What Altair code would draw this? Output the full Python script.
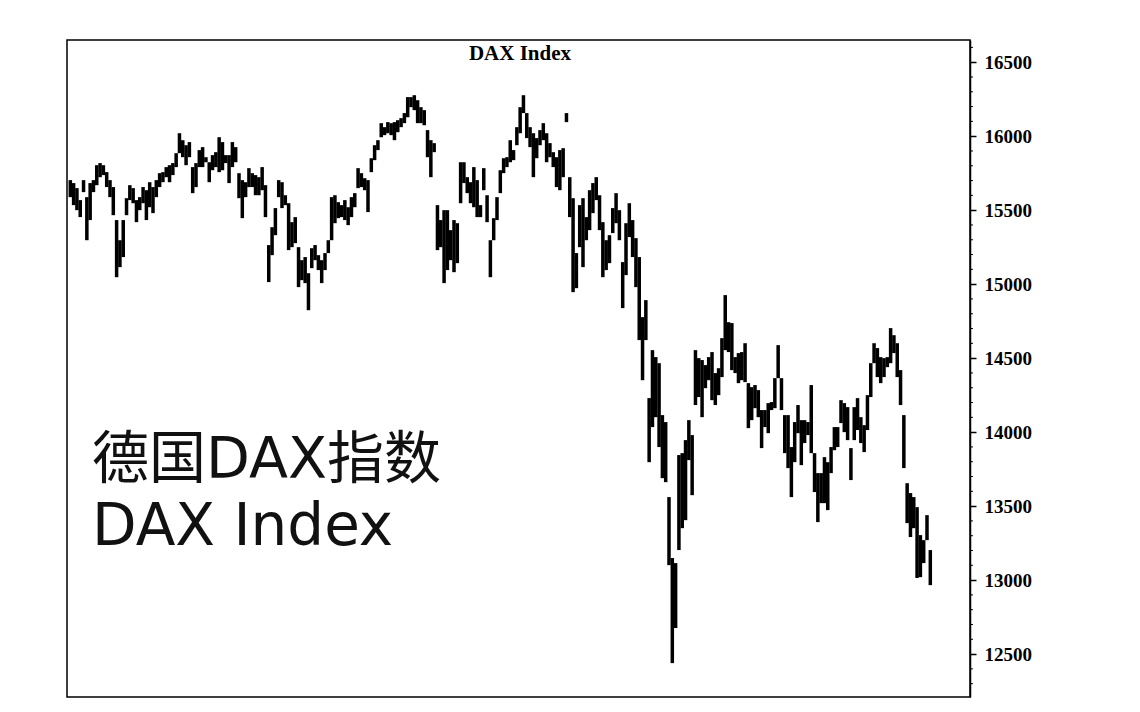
import altair as alt
import pandas as pd

# Daily high / low of the DAX index (one bar per trading day)
high = [
15703, 15683, 15649, 15568, 15703, 15588, 15683, 15703, 15804, 15818,
15804, 15757, 15703, 15656, 15433, 15297, 15433, 15581, 15669, 15649,
15568, 15588, 15656, 15635, 15689, 15656, 15703, 15750, 15757, 15791,
15804, 15818, 15885, 16020, 15973, 15939, 15960, 15791, 15818, 15906,
15926, 15858, 15824, 15872, 15892, 15993, 15960, 15872, 15872, 15960,
15926, 15750, 15703, 15689, 15784, 15750, 15737, 15723, 15791, 15669,
15264, 15385, 15514, 15703, 15689, 15601, 15547, 15419, 15453, 15250,
15162, 15183, 15074, 15243, 15264, 15196, 15162, 15210, 15297, 15588,
15601, 15554, 15534, 15568, 15520, 15588, 15615, 15784, 15750, 15716,
15703, 15851, 15939, 15973, 16088, 16061, 16095, 16088, 16095, 16108,
16122, 16156, 16264, 16264, 16277, 16243, 16196, 16176, 16041, 15973,
15953, 15534, 15433, 15500, 15500, 15365, 15433, 15412, 15824, 15824,
15723, 15689, 15791, 15703, 15534, 15784, 15601, 15297, 15446, 15588,
15770, 15851, 15858, 15973, 15906, 16061, 16196, 16277, 16156, 16061,
16020, 15987, 16041, 16088, 16020, 15953, 15892, 15858, 15906, 15919,
16156, 15723, 15581, 15210, 15534, 15581, 15453, 15635, 15683, 15723,
15601, 15419, 15297, 15331, 15514, 15615, 15500, 15149, 15412, 15547,
15433, 15311, 15183, 14777, 14892, 14230, 14554, 14507, 14466, 14115,
14068, 13561, 13149, 13115, 13845, 13858, 13946, 14081, 13980, 14554,
14500, 14487, 14453, 14507, 14541, 14399, 14432, 14635, 14926, 14743,
14737, 14507, 14534, 14541, 14601, 14331, 14304, 14318, 14284, 14149,
14149, 14196, 14203, 14365, 14588, 14365, 14115, 14115, 13899, 14068,
14183, 14081, 14081, 14068, 14318, 13858, 13723, 13723, 13831, 13797,
13899, 14034, 14034, 14216, 14196, 14169, 13892, 14169, 14230, 14101,
14047, 14250, 14466, 14601, 14568, 14507, 14500, 14507, 14703, 14655,
14601, 14419, 14115, 13655, 13588, 13561, 13493, 13304, 13270, 13439,
13203,
]

low = [
15588, 15534, 15500, 15453, 15622, 15297, 15433, 15622, 15669, 15723,
15737, 15656, 15588, 15466, 15047, 15115, 15183, 15466, 15568, 15547,
15419, 15500, 15547, 15433, 15520, 15480, 15588, 15656, 15689, 15723,
15689, 15737, 15791, 15885, 15858, 15804, 15858, 15615, 15656, 15791,
15791, 15824, 15689, 15770, 15791, 15757, 15770, 15818, 15683, 15791,
15824, 15581, 15446, 15588, 15656, 15656, 15601, 15601, 15635, 15453,
15014, 15196, 15331, 15588, 15514, 15534, 15230, 15250, 15277, 14980,
15027, 15007, 14824, 15108, 15162, 15095, 15007, 15095, 15210, 15297,
15412, 15446, 15453, 15433, 15399, 15453, 15520, 15649, 15656, 15635,
15487, 15757, 15838, 15906, 15993, 16007, 16020, 16007, 15973, 16027,
16061, 16088, 16128, 16196, 16176, 16088, 16088, 16074, 15858, 15723,
15892, 15230, 15250, 15007, 15095, 15162, 15081, 15142, 15547, 15683,
15615, 15547, 15520, 15453, 15453, 15635, 15419, 15047, 15297, 15433,
15615, 15750, 15791, 15824, 15838, 15939, 16020, 16156, 15987, 15926,
15723, 15851, 15939, 15973, 15824, 15858, 15791, 15656, 15635, 15723,
16095, 15453, 14946, 14973, 15250, 15115, 15297, 15365, 15480, 15568,
15365, 15047, 15095, 15142, 15345, 15412, 15297, 14838, 15061, 15318,
15183, 14980, 14622, 14351, 14622, 13797, 14034, 14101, 13899, 13689,
13662, 13101, 12439, 12676, 13203, 13351, 13405, 13811, 13574, 14183,
14237, 14101, 14297, 14351, 14216, 14183, 14250, 14372, 14554, 14541,
14419, 14399, 14331, 14351, 14338, 14027, 14081, 14162, 14101, 13892,
14034, 13993, 14149, 14162, 14365, 14149, 13858, 13757, 13561, 13797,
13993, 13777, 13926, 13980, 13858, 13595, 13392, 13520, 13520, 13473,
13723, 13878, 13899, 14061, 14000, 13946, 13676, 13946, 14014, 13926,
13865, 14014, 14237, 14466, 14372, 14331, 14372, 14439, 14466, 14534,
14372, 14183, 13757, 13385, 13291, 13351, 13014, 13020, 13115, 13270,
12966,
]

major_ticks = [12500, 13000, 13500, 14000, 14500, 15000, 15500, 16000, 16500]
minor_ticks = [v for v in range(12300, 16700, 100) if v % 500 != 0]

chart_title = ["DAX Index"]
caption_lines = ["德国DAX指数", "DAX Index"]

n = min(len(high), len(low))
df = pd.DataFrame({"day": list(range(n)), "high": high[:n], "low": low[:n]})

W, H = 903, 657
xscale = alt.Scale(domain=[-1, 272], nice=False, zero=False)
yscale = alt.Scale(domain=[12210, 16650], nice=False, zero=False)

yaxis = alt.Axis(
    orient="right",
    values=major_ticks,
    title=None,
    grid=False,
    format="d",
    labelFont="Liberation Serif",
    labelFontWeight="bold",
    labelFontSize=19,
    labelColor="black",
    labelPadding=8,
    tickColor="black",
    tickSize=6,
    tickWidth=1.5,
    domainColor="black",
    domainWidth=1.5,
)

bars = alt.Chart(df).mark_rule(color="black", strokeWidth=3.5).encode(
    x=alt.X("day:Q", scale=xscale, axis=None),
    y=alt.Y("low:Q", scale=yscale, axis=yaxis),
    y2="high:Q",
)

minor = alt.Chart(pd.DataFrame({"v": minor_ticks})).mark_rule(
    color="black", strokeWidth=1
).encode(
    x=alt.value(W),
    x2=alt.value(W + 3),
    y=alt.Y("v:Q", scale=yscale, axis=yaxis),
)

title = alt.Chart(pd.DataFrame({"t": chart_title})).mark_text(
    font="Liberation Serif", fontWeight="bold", fontSize=21,
    align="center", baseline="alphabetic", color="black",
).encode(x=alt.value(453), y=alt.value(20), text="t:N")

cap_font = "DejaVu Sans, Noto Sans CJK SC"

cap1 = alt.Chart(pd.DataFrame({"t": caption_lines[:1]})).mark_text(
    font=cap_font, fontSize=57, align="left",
    baseline="alphabetic", color="#111111",
).encode(x=alt.value(25), y=alt.value(438), text="t:N")

cap2 = alt.Chart(pd.DataFrame({"t": caption_lines[1:]})).mark_text(
    font=cap_font, fontSize=58, align="left",
    baseline="alphabetic", color="#111111",
).encode(x=alt.value(25), y=alt.value(505), text="t:N")

chart = alt.layer(bars, minor, title, cap1, cap2).properties(
    width=W,
    height=H,
    autosize=alt.AutoSizeParams(type="none"),
    padding={"left": 59, "top": 32, "right": 150, "bottom": 8},
    background="white",
).configure_view(stroke="black", strokeWidth=1.5)

chart.save("out.html", embed_options={"renderer": "svg", "actions": False})
